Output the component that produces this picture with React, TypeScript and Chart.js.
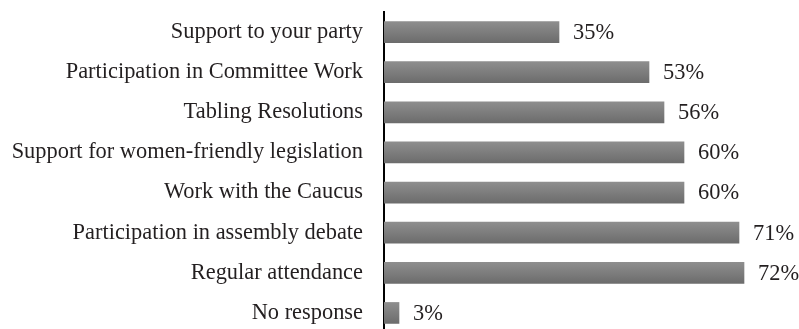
import React, { useEffect, useRef } from "react";
import { Chart, registerables } from "chart.js";

Chart.register(...registerables);

const categories = [
  "Support to your party",
  "Participation in Committee Work",
  "Tabling Resolutions",
  "Support for women-friendly legislation",
  "Work with the Caucus",
  "Participation in assembly debate",
  "Regular attendance",
  "No response",
];
const values = [35, 53, 56, 60, 60, 71, 72, 3];

const FONT = "'Liberation Serif', 'Times New Roman', serif";
const TEXT_COLOR = "#231f20";
const FONT_SIZE = 22.4;

export default function App() {
  const ref = useRef<HTMLCanvasElement | null>(null);

  useEffect(() => {
    document.body.style.margin = "0";
    document.body.style.overflow = "hidden";
    const canvas = ref.current!;
    const valueLabels = {
      id: "valueLabels",
      afterDatasetsDraw(chart: any) {
        const ctx = chart.ctx;
        const meta = chart.getDatasetMeta(0);
        ctx.save();
        ctx.font = `${FONT_SIZE}px ${FONT}`;
        ctx.fillStyle = TEXT_COLOR;
        ctx.textAlign = "left";
        ctx.textBaseline = "middle";
        meta.data.forEach((el: any, i: number) => {
          ctx.fillText(values[i] + "%", el.x + 14, el.y + 1);
        });
        ctx.restore();
      },
    };
    const chart = new Chart(canvas, {
      type: "bar",
      data: {
        labels: categories,
        datasets: [
          {
            data: values,
            backgroundColor: (c: any) => {
              const chartObj = c.chart;
              const y = chartObj.scales && chartObj.scales.y;
              if (!y || c.dataIndex === undefined) return "#7c7c7c";
              const cy = y.getPixelForValue(c.dataIndex);
              if (!Number.isFinite(cy)) return "#7c7c7c";
              const g = chartObj.ctx.createLinearGradient(0, cy - 10.5, 0, cy + 10.5);
              g.addColorStop(0, "#8e8e8e");
              g.addColorStop(1, "#6c6c6c");
              return g;
            },
            borderWidth: 0,
            barThickness: 21,
          },
        ],
      },
      options: {
        indexAxis: "y",
        animation: false,
        responsive: false,
        devicePixelRatio: 1,
        layout: { padding: { top: 12, bottom: 12, left: 0, right: 15 } },
        plugins: { legend: { display: false }, tooltip: { enabled: false } },
        scales: {
          x: { display: false, min: 0, max: 80 },
          y: {
            afterFit: (s: any) => {
              s.width = 384;
              s.paddingTop = 0;
              s.paddingBottom = 0;
            },
            grid: { display: false, drawTicks: false },
            border: { display: true, color: "#000000", width: 2 },
            ticks: {
              padding: 21,
              color: TEXT_COLOR,
              font: { family: FONT, size: FONT_SIZE },
            },
          },
        },
      },
      plugins: [valueLabels],
    });
    return () => chart.destroy();
  }, []);

  return (
    <div style={{ width: 799, height: 329, overflow: "hidden", position: "relative", background: "#fff" }}>
      <canvas ref={ref} width={799} height={345} style={{ display: "block" }} />
    </div>
  );
}
